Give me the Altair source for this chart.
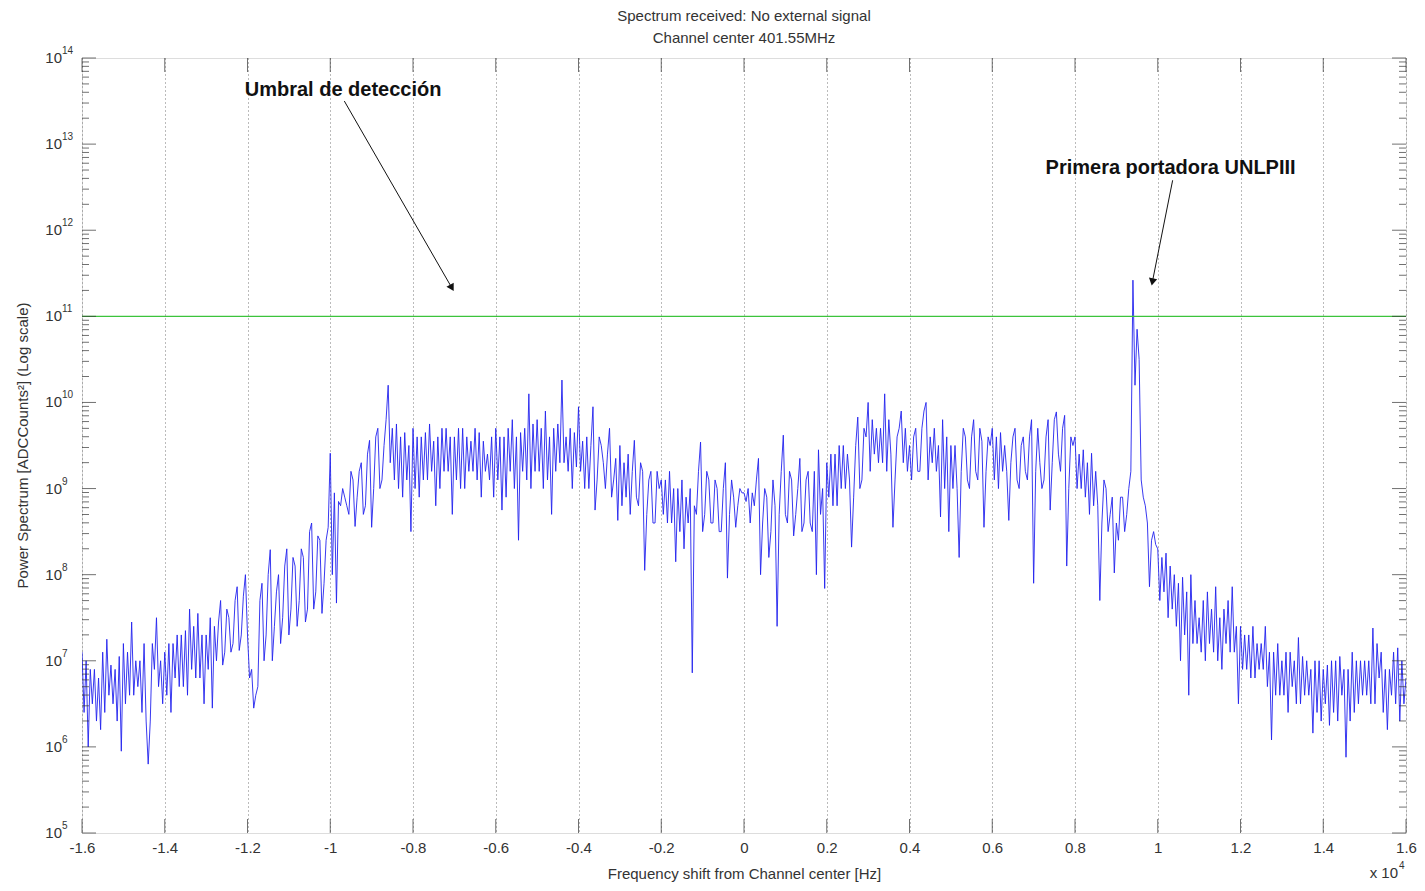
import altair as alt
import pandas as pd

FONT = "Liberation Sans"
TEXT_COLOR = "#333333"

# ---------------- data ----------------
# spectrum, power as log10(ADCCounts^2); two readings per 100 Hz bin starting at -16000 Hz.
# bin_reading: the main reading of each bin; bin_partner: the opposite excursion in the same bin.
FREQ_START_HZ = -16000
SAMPLE_STEP_HZ = 50
bin_reading = [
    7.1, 6.0, 6.9, 6.3, 6.8, 6.4, 7.25, 6.5, 6.9, 5.95,
    7.2, 6.6, 7.45, 6.7, 7.0, 6.3, 5.8, 6.9, 7.5, 6.5,
    7.1, 6.4, 7.2, 6.7, 7.3, 6.6, 7.6, 6.8, 7.55, 6.5,
    7.3, 6.45, 7.4, 7.7, 6.95, 7.5, 7.1, 7.86, 7.12, 8.0,
    7.3, 6.45, 6.6, 7.9, 7.0, 8.29, 7.0, 8.0, 7.2, 8.3,
    7.3, 8.1, 7.4, 8.2, 7.45, 8.6, 7.6, 8.4, 7.55, 8.55,
    9.41, 7.67, 8.85, 8.9, 8.8, 9.1, 8.56, 9.3, 8.7, 9.56,
    8.55, 9.7, 9.0, 9.8, 10.2, 9.1, 9.75, 8.9, 9.65, 8.5,
    9.7, 8.9, 9.6, 9.1, 9.75, 8.8, 9.6, 9.2, 9.7, 8.7,
    9.6, 9.0, 9.7, 9.2, 9.55, 9.1, 9.65, 9.2, 9.4, 8.9,
    9.7, 8.75, 9.6, 9.2, 9.8, 8.4, 9.65, 9.1, 10.1, 9.2,
    9.8, 9.0, 9.9, 8.7, 9.7, 9.3, 10.26, 9.2, 9.7, 9.25,
    9.95, 9.0, 9.6, 9.95, 8.75, 9.5, 9.3, 9.7, 8.9, 8.63,
    9.5, 8.9, 9.4, 9.56, 8.9, 9.2, 8.05, 9.2, 8.6, 9.0,
    9.1, 8.6, 9.2, 8.15, 9.0, 8.3, 8.9, 6.86, 8.8, 9.54,
    8.5, 9.1, 8.6, 9.0, 8.5, 9.3, 7.96, 8.9, 8.55, 8.95,
    8.95, 8.6, 8.95, 9.35, 8.0, 8.9, 8.2, 8.8, 7.4, 9.62,
    8.7, 9.1, 8.45, 9.35, 8.5, 9.2, 8.6, 8.0, 9.45, 7.84,
    9.3, 8.8, 9.4, 9.0, 9.5, 9.1, 8.32, 9.83, 9.0, 9.6,
    10.0, 9.4, 9.7, 9.3, 10.1, 9.4, 8.55, 9.7, 9.9, 9.2,
    9.5, 9.7, 9.2, 9.9, 10.0, 9.3, 9.7, 8.67, 9.8, 8.5,
    9.5, 9.0, 8.2, 9.6, 9.1, 9.8, 9.2, 9.55, 8.55, 9.5,
    9.7, 9.0, 9.65, 9.2, 8.63, 9.7, 9.1, 9.6, 9.2, 9.8,
    7.9, 9.3, 9.0, 9.8, 8.75, 9.89, 9.4, 9.85, 8.1, 9.5,
    9.6, 9.0, 9.45, 8.7, 9.41, 8.8, 7.7, 9.0, 8.5, 8.02,
    8.6, 8.9, 8.5, 9.2, 11.42, 10.5, 9.1, 8.6, 7.86, 8.35,
    8.3, 7.8, 8.25, 7.6, 8.0, 7.0, 7.97, 6.6, 8.0, 7.2,
    7.5, 7.0, 7.8, 7.1, 7.86, 6.9, 7.6, 7.1, 7.86, 6.5,
    7.4, 6.9, 7.3, 6.8, 7.2, 6.9, 7.4, 6.08, 7.1, 6.6,
    7.0, 6.4, 7.1, 6.5, 7.27, 6.6, 7.0, 6.16, 7.0, 6.3,
    6.9, 6.25, 7.0, 6.3, 7.05, 5.88, 6.9, 6.4, 7.0, 6.6,
    7.0, 6.5, 7.38, 6.8, 7.1, 6.2, 6.9, 6.5, 7.15, 6.5, 6.8,
]
bin_partner = [
    6.4, 7.0, 6.5, 6.9, 6.2, 7.1, 6.6, 6.95, 6.3, 7.05,
    6.5, 7.1, 6.6, 7.0, 6.4, 7.2, 6.3, 7.2, 6.7, 7.0,
    6.6, 7.2, 6.8, 7.3, 6.7, 7.35, 6.9, 7.4, 6.8, 7.3,
    6.9, 7.5, 7.0, 7.45, 7.1, 7.6, 7.2, 7.7, 7.3, 7.75,
    6.8, 6.9, 6.7, 7.7, 7.3, 8.0, 7.4, 7.8, 7.5, 8.1,
    7.6, 8.2, 7.7, 8.3, 7.6, 8.5, 7.8, 8.45, 7.9, 8.4,
    8.0, 8.95, 8.8, 9.0, 8.7, 9.2, 8.9, 9.2, 8.8, 9.4,
    9.0, 9.6, 9.1, 9.5, 9.3, 9.7, 9.0, 9.6, 9.1, 9.5,
    9.0, 9.6, 9.1, 9.65, 9.2, 9.55, 9.0, 9.7, 9.2, 9.6,
    9.1, 9.7, 9.0, 9.6, 9.2, 9.7, 8.9, 9.55, 9.1, 9.6,
    9.1, 9.6, 8.9, 9.7, 9.0, 9.6, 9.2, 9.7, 9.0, 9.75,
    9.2, 9.7, 9.1, 9.6, 9.2, 9.75, 9.3, 9.6, 9.0, 9.65,
    9.2, 9.55, 9.0, 9.5, 9.1, 9.6, 9.0, 9.4, 9.1, 9.35,
    8.8, 9.3, 8.7, 9.2, 8.8, 9.3, 8.7, 9.1, 8.6, 9.2,
    8.7, 9.1, 8.6, 9.0, 8.5, 9.1, 8.6, 9.0, 8.7, 9.2,
    8.7, 9.2, 8.6, 9.1, 8.5, 9.0, 8.7, 9.1, 8.8, 9.0,
    8.85, 9.0, 8.8, 9.1, 8.6, 9.0, 8.5, 9.1, 8.7, 9.2,
    8.6, 9.2, 8.7, 9.0, 8.6, 9.1, 8.5, 9.2, 8.7, 9.0,
    8.9, 9.4, 8.8, 9.5, 9.0, 9.4, 8.9, 9.5, 9.1, 9.7,
    9.2, 9.8, 9.3, 9.7, 9.2, 9.8, 9.1, 9.6, 9.3, 9.7,
    9.1, 9.6, 9.2, 9.7, 9.1, 9.6, 9.2, 9.5, 9.0, 9.6,
    9.0, 9.5, 9.2, 9.7, 9.0, 9.6, 9.1, 9.7, 9.2, 9.6,
    9.1, 9.6, 9.2, 9.5, 9.3, 9.6, 9.0, 9.5, 9.1, 9.6,
    9.2, 9.7, 9.1, 9.6, 9.3, 9.8, 9.2, 9.7, 9.0, 9.6,
    9.0, 9.4, 8.9, 9.3, 8.8, 9.2, 8.6, 9.1, 8.7, 8.9,
    8.4, 8.9, 8.7, 9.0, 10.2, 10.85, 8.9, 8.8, 8.4, 8.5,
    7.7, 8.2, 7.5, 8.1, 7.4, 7.9, 7.3, 7.8, 7.2, 7.7,
    7.1, 7.7, 7.2, 7.6, 7.0, 7.5, 7.2, 7.7, 7.1, 7.4,
    6.9, 7.3, 6.8, 7.4, 6.9, 7.2, 6.7, 7.1, 6.6, 7.2,
    6.6, 7.1, 6.7, 7.0, 6.5, 7.05, 6.6, 6.9, 6.4, 7.0,
    6.5, 6.95, 6.4, 7.0, 6.6, 6.9, 6.3, 7.1, 6.5, 7.0,
    6.6, 7.0, 6.5, 7.2, 6.4, 6.9, 6.6, 7.1, 6.3, 7.0,
]

DETECTION_THRESHOLD = 1e11

# axes
X_DOMAIN = [-16000, 16000]
Y_DOMAIN = [1e5, 1e14]
x_tick_values = [-16000, -14000, -12000, -10000, -8000, -6000, -4000, -2000, 0,
                 2000, 4000, 6000, 8000, 10000, 12000, 14000, 16000]
y_exponents = [5, 6, 7, 8, 9, 10, 11, 12, 13, 14]
y_minor_mult = [2, 3, 4, 5, 6, 7, 8, 9]

TITLE_LINES = ["Spectrum received: No external signal", "Channel center 401.55MHz"]
X_TITLE = "Frequency shift from Channel center [Hz]"
Y_TITLE = "Power Spectrum [ADCCounts\u00b2] (Log scale)"

# annotations (frequency in Hz, log10 power)
ann_labels = ["Umbral de detección", "Primera portadora UNLPIII"]
ann_freq = [-9690, 10310]
ann_log = [13.63, 12.72]
arrow_start_freq = [-9660, 10360]
arrow_start_log = [13.50, 12.58]
arrow_end_freq = [-7060, 9870]
arrow_end_log = [11.33, 11.40]
arrow_angle = [150, 191]

# ---------------- assemble samples ----------------
log10_samples = []
for k, reading in enumerate(bin_reading):
    if k < len(bin_partner):
        pair = [reading, bin_partner[k]] if k % 2 == 0 else [bin_partner[k], reading]
    else:
        pair = [reading]
    log10_samples.extend(pair)
freq_hz = [FREQ_START_HZ + SAMPLE_STEP_HZ * i for i in range(len(log10_samples))]
power = [10.0 ** v for v in log10_samples]

# ---------------- chart ----------------
W, H = 1324, 775
x_scale = alt.Scale(domain=X_DOMAIN, nice=False, zero=False)
y_scale = alt.Scale(type="log", domain=Y_DOMAIN, nice=False)

x_axis = alt.Axis(
    values=x_tick_values, labelExpr="'' + datum.value/10000",
    grid=True, gridDash=[1, 3], gridColor="#777777", gridWidth=1,
    ticks=False, domain=False, labelFlush=False, labelOverlap=False,
    labelFont=FONT, labelFontSize=15, labelColor=TEXT_COLOR, labelPadding=7,
    title=X_TITLE, titleFont=FONT, titleFontSize=15, titleFontWeight="normal",
    titleColor=TEXT_COLOR, titleX=W / 2, titleY=40, titleBaseline="middle",
    titleAlign="center")
y_axis = alt.Axis(
    labels=False, ticks=False, grid=False, domain=False,
    title=Y_TITLE, titleFont=FONT, titleFontSize=15, titleFontWeight="normal",
    titleColor=TEXT_COLOR, titleX=-60, titleY=387, titleAngle=-90,
    titleBaseline="middle", titleAlign="center")


def X(field):
    return alt.X(field, scale=x_scale, axis=x_axis)


def Y(field):
    return alt.Y(field, scale=y_scale, axis=y_axis)


df = pd.DataFrame({"freq": freq_hz, "power": power})

spectrum = alt.Chart(df).mark_line(color="#2222ee", strokeWidth=0.9, clip=True).encode(
    x=X("freq:Q"), y=Y("power:Q"))

threshold = alt.Chart(pd.DataFrame({"thr": [DETECTION_THRESHOLD]})).mark_rule(
    color="#3cc43c", strokeWidth=1.3).encode(y=Y("thr:Q"))

xt = pd.DataFrame({"x": x_tick_values})
tick_color = "#333333"
top_ticks = alt.Chart(xt).mark_tick(orient="vertical", size=14, thickness=1, color=tick_color).encode(
    x=X("x:Q"), y=alt.value(7))
bottom_ticks = alt.Chart(xt).mark_tick(orient="vertical", size=14, thickness=1, color=tick_color).encode(
    x=X("x:Q"), y=alt.value(H - 7))

ymaj = pd.DataFrame({"y": [10.0 ** k for k in y_exponents], "exp": [str(k) for k in y_exponents]})
ymin = pd.DataFrame({"y": [m * 10.0 ** k for k in y_exponents[:-1] for m in y_minor_mult]})
left_major = alt.Chart(ymaj).mark_tick(orient="horizontal", size=14, thickness=1, color=tick_color).encode(
    y=Y("y:Q"), x=alt.value(7))
right_major = alt.Chart(ymaj).mark_tick(orient="horizontal", size=14, thickness=1, color=tick_color).encode(
    y=Y("y:Q"), x=alt.value(W - 7))
left_minor = alt.Chart(ymin).mark_tick(orient="horizontal", size=7, thickness=1, color=tick_color).encode(
    y=Y("y:Q"), x=alt.value(3.5))
right_minor = alt.Chart(ymin).mark_tick(orient="horizontal", size=7, thickness=1, color=tick_color).encode(
    y=Y("y:Q"), x=alt.value(W - 3.5))

ylab_base = alt.Chart(ymaj).mark_text(align="right", baseline="middle", font=FONT, fontSize=15,
                                      color=TEXT_COLOR).encode(
    y=Y("y:Q"), x=alt.value(-20), text=alt.value("10"))
ylab_exp = alt.Chart(ymaj).mark_text(align="left", baseline="middle", font=FONT, fontSize=10,
                                     dy=-7, color=TEXT_COLOR).encode(
    y=Y("y:Q"), x=alt.value(-20), text="exp:N")

mult = pd.DataFrame({"t": ["x 10"], "e": ["4"]})
mult_base = alt.Chart(mult).mark_text(align="right", baseline="middle", font=FONT, fontSize=15,
                                      color=TEXT_COLOR).encode(
    x=alt.value(W - 8), y=alt.value(815), text="t:N")
mult_exp = alt.Chart(mult).mark_text(align="left", baseline="middle", font=FONT, fontSize=10,
                                     color=TEXT_COLOR).encode(
    x=alt.value(W - 7), y=alt.value(808), text="e:N")

ann = pd.DataFrame({
    "label": ann_labels,
    "fx": ann_freq, "fy": [10.0 ** v for v in ann_log],
    "x0": arrow_start_freq, "y0": [10.0 ** v for v in arrow_start_log],
    "x1": arrow_end_freq, "y1": [10.0 ** v for v in arrow_end_log],
    "angle": arrow_angle,
})
ann_text = alt.Chart(ann).mark_text(font=FONT, fontSize=20, fontWeight="bold", color="#111111",
                                    align="center", baseline="middle").encode(
    x=X("fx:Q"), y=Y("fy:Q"), text="label:N")
ann_line = alt.Chart(ann).mark_rule(color="#111111", strokeWidth=1).encode(
    x=X("x0:Q"), y=Y("y0:Q"), x2="x1:Q", y2="y1:Q")
ann_head = alt.Chart(ann).mark_point(shape="triangle-up", filled=True, size=70, color="#111111",
                                     opacity=1).encode(
    x=X("x1:Q"), y=Y("y1:Q"), angle=alt.Angle("angle:Q", scale=None))

chart = alt.layer(
    spectrum, threshold, top_ticks, bottom_ticks, left_major, right_major, left_minor, right_minor,
    ylab_base, ylab_exp, mult_base, mult_exp, ann_line, ann_head, ann_text,
).properties(
    width=W, height=H,
    title=alt.Title(TITLE_LINES, font=FONT, fontSize=15, fontWeight="normal", color=TEXT_COLOR,
                    anchor="middle", offset=0, lineHeight=22),
    padding={"left": 74, "top": 50, "right": 11, "bottom": 50},
    autosize=alt.AutoSizeParams(type="none"),
).configure_view(stroke="#444444", strokeWidth=1.2).configure(background="white")

chart.save("out.html", embed_options={"renderer": "svg", "actions": False})
